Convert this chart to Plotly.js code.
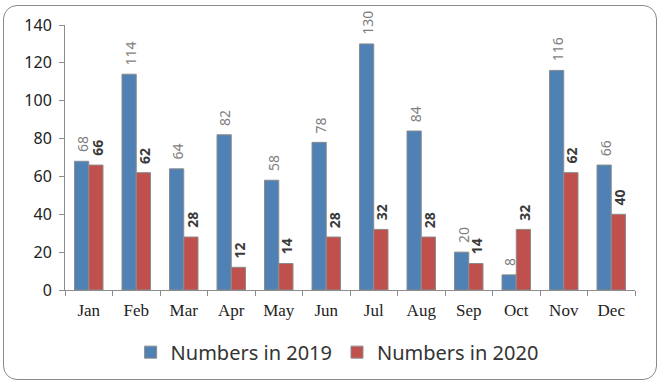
<!DOCTYPE html>
<html><head><meta charset="utf-8">
<script src="https://cdn.plot.ly/plotly-3.0.1.min.js"></script>
<style>
html,body{margin:0;padding:0;background:#fff;}
#frame{position:absolute;left:3px;top:5px;width:652px;height:373px;border:1.5px solid #8a8a8a;border-radius:14px;}
#chart{position:absolute;left:0;top:0;width:661px;height:384px;}
</style></head>
<body>
<div id="frame"></div>
<div id="chart"></div>
<script>
const months = ["Jan","Feb","Mar","Apr","May","Jun","Jul","Aug","Sep","Oct","Nov","Dec"];
const values2019 = [68,114,64,82,58,78,130,84,20,8,116,66];
const values2020 = [66,62,28,12,14,28,32,28,14,32,62,40];
const seriesNames = ["Numbers in 2019","Numbers in 2020"];

const traces = [
  {type:'bar', x:months, y:values2019, name:seriesNames[0],
   marker:{color:'#4f81b5', line:{color:'#8c8c8c', width:1}}},
  {type:'bar', x:months, y:values2020, name:seriesNames[1],
   marker:{color:'#c0504d', line:{color:'#8c8c8c', width:1}}}
];
const annotations = [];
months.forEach((m, i) => {
  annotations.push({x:m, y:values2019[i], xref:'x', yref:'y', text:String(values2019[i]),
    showarrow:false, textangle:-90, xanchor:'center', yanchor:'bottom', xshift:-6, yshift:7,
    font:{family:'Noto Sans', size:14, color:'#7f7f7f'}});
  annotations.push({x:m, y:values2020[i], xref:'x', yref:'y', text:'<b>' + values2020[i] + '</b>',
    showarrow:false, textangle:-90, xanchor:'center', yanchor:'bottom', xshift:8, yshift:7,
    font:{family:'Noto Sans', size:14, color:'#3a3a3a'}});
});
const layout = {
  width:661, height:384,
  margin:{l:65, r:26, t:25, b:94},
  paper_bgcolor:'rgba(0,0,0,0)', plot_bgcolor:'rgba(0,0,0,0)',
  barmode:'group', bargap:0.4, bargroupgap:0,
  showlegend:true,
  annotations:annotations,
  legend:{orientation:'h', xref:'container', yref:'container', x:0.51, xanchor:'center',
    y:0.083, yanchor:'middle',
    font:{family:'Noto Sans', size:20, color:'#333'}, itemwidth:30},
  xaxis:{tickfont:{family:'Liberation Serif', size:17, color:'#222'}, ticklabelstandoff:5,
    showline:true, linecolor:'#8c8c8c', linewidth:1, ticks:'outside', tickson:'boundaries',
    ticklen:5, tickcolor:'#8c8c8c', showgrid:false},
  yaxis:{range:[0,140], dtick:20, showgrid:false, zeroline:false,
    tickfont:{family:'Noto Sans', size:16, color:'#222'}, ticklabelstandoff:4,
    showline:true, linecolor:'#8c8c8c', linewidth:1, ticks:'outside', ticklen:5, tickcolor:'#8c8c8c'}
};
Plotly.newPlot('chart', traces, layout, {displayModeBar:false, staticPlot:true});
</script>
</body></html>
